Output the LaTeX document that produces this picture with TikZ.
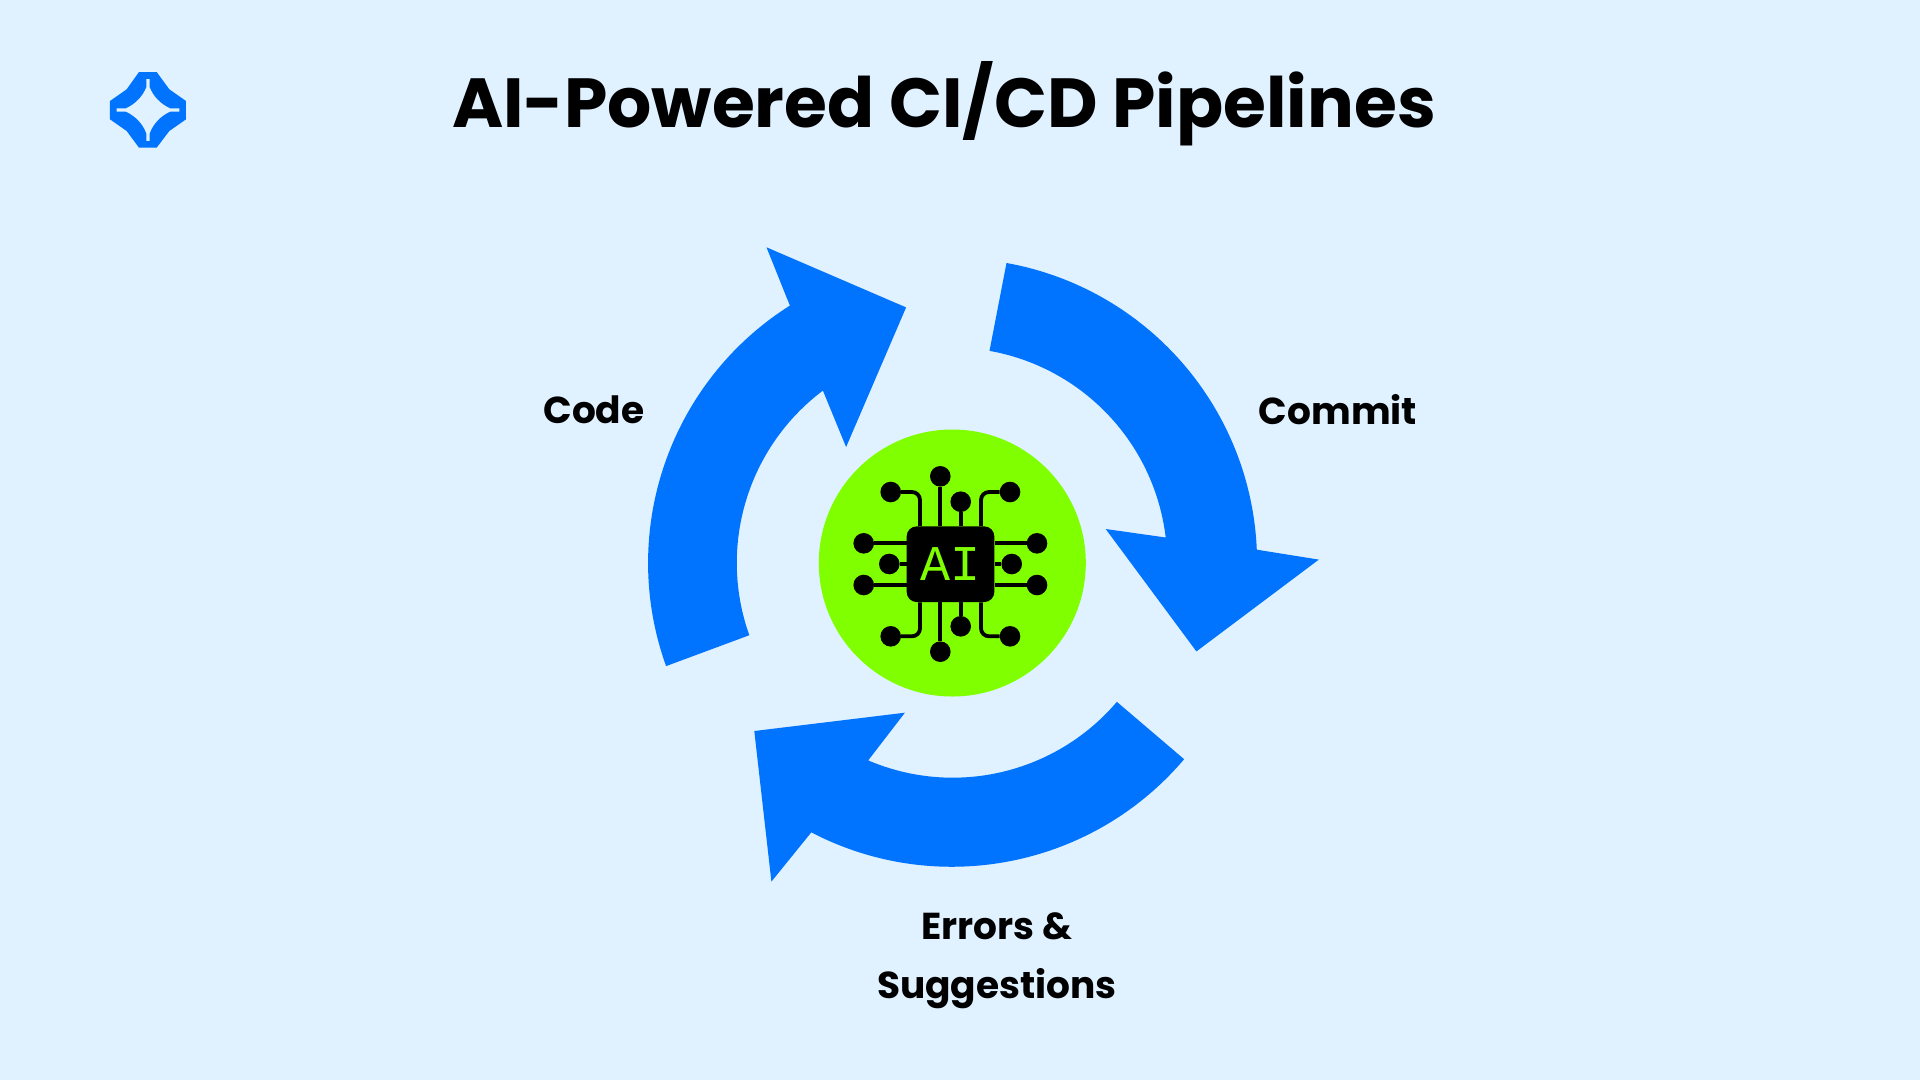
\documentclass[tikz,border=0pt]{standalone}
\usepackage{fontspec}
\setmainfont{Poppins}
\newfontfamily\chipfont{Liberation Mono}
\definecolor{bgc}{HTML}{E0F1FF}
\definecolor{bluec}{HTML}{0073FF}
\definecolor{greenc}{HTML}{7FFF00}
\tikzset{
  arrowshape/.style={fill=bluec,draw=none},
  lab/.style={font=\fontsize{37.5}{59}\selectfont\bfseries,align=center,inner sep=0pt,text=black},
  dot/.style={circle,fill=black,draw=none,minimum size=20.6pt,inner sep=0pt},
  trace/.style={draw=black,line width=3.8pt,rounded corners=8pt}
}
\begin{document}
\begin{tikzpicture}[x=1pt,y=-1pt]
\useasboundingbox (0,0) rectangle (1920,1080);
\fill[bgc] (0,0) rectangle (1920,1080);
\coordinate (c) at (952.5,563);
% arrows
\fill[arrowshape] (1006.5,263) arc[start angle=-79.8,end angle=-2.45,radius=304.5]
  -- (1318.8,559.6) -- (1196.4,651.4) -- (1105.7,529) -- (1165.7,537.5)
  arc[start angle=-6.8,end angle=-79.9,radius=215.5] -- cycle;
\fill[arrowshape] (1184.1,759.2) arc[start angle=40.3,end angle=117.5,radius=304.5]
  -- (771.4,881.6) -- (754.3,731) -- (904.9,712.7) -- (868.2,760.4)
  arc[start angle=113.1,end angle=40.4,radius=215.5] -- cycle;
\fill[arrowshape] (666.1,666.1) arc[start angle=160.2,end angle=237.7,radius=304.5]
  -- (766.5,247.3) -- (906.1,307.4) -- (846.1,447) -- (822.9,390.6)
  arc[start angle=233.1,end angle=160.4,radius=215.5] -- cycle;
% centre
\node[circle,fill=greenc,minimum size=267pt,inner sep=0pt] (hub) at (952.3,563) {};
\node[dot] (dtop) at (940.3,476.3) {};
\node[dot] (dtopb) at (960.7,501.7) {};
\node[dot] (dtl) at (890.7,492) {};
\node[dot] (dtr) at (1010,492) {};
\node[dot] (dla) at (863.7,543.3) {};
\node[dot] (dlb) at (889.3,564) {};
\node[dot] (dlc) at (863.7,585) {};
\node[dot] (dra) at (1037,543.3) {};
\node[dot] (drb) at (1011.7,564) {};
\node[dot] (drc) at (1037,585) {};
\node[dot] (dbl) at (890.7,636.3) {};
\node[dot] (dbr) at (1010,636.3) {};
\node[dot] (dbot) at (940.3,651.7) {};
\node[dot] (dbotb) at (960.7,626.3) {};
\node[fill=black,rounded corners=10pt,minimum width=87.6pt,minimum height=75.7pt,inner sep=0pt,
  text=greenc,font=\chipfont\fontsize{50}{50}\selectfont] (chip) at (950.5,564.2) {AI};
\coordinate (ctl) at (920,560);
\coordinate (ctr) at (981,560);
\draw[trace] (dtop) -- (dtop |- chip.north);
\draw[trace] (dtopb) -- (dtopb |- chip.north);
\draw[trace] (dbot) -- (dbot |- chip.south);
\draw[trace] (dbotb) -- (dbotb |- chip.south);
\draw[trace] (dla) -- (dla -| chip.west);
\draw[trace] (dlb) -- (dlb -| chip.west);
\draw[trace] (dlc) -- (dlc -| chip.west);
\draw[trace] (dra) -- (dra -| chip.east);
\draw[trace] (drb) -- (drb -| chip.east);
\draw[trace] (drc) -- (drc -| chip.east);
\draw[trace] (dtl) -- (dtl -| ctl) -- (ctl |- chip.north);
\draw[trace] (dtr) -- (dtr -| ctr) -- (ctr |- chip.north);
\draw[trace] (dbl) -- (dbl -| ctl) -- (ctl |- chip.south);
\draw[trace] (dbr) -- (dbr -| ctr) -- (ctr |- chip.south);
% logo
\begin{scope}[shift={(90,50)},x=0.3333pt,y=-0.3333pt]
\fill[bluec] (147,66)--(200,66)--(238,118)--(288,153)--(288,208)--(238,243)--(200,293)--(147,293)--(110,243)--(60,208)--(60,153)--(110,118)--cycle;
\fill[bgc] (169,87)--(179,87)--(179,112) .. controls (190,140) and (212,162) .. (240,175) -- (268,175)--(268,185)--(240,185)
  .. controls (212,198) and (190,220) .. (179,250) -- (179,273)--(169,273)--(169,250)
  .. controls (158,220) and (136,198) .. (108,185) -- (80,185)--(80,175)--(108,175)
  .. controls (136,162) and (158,140) .. (169,112) -- cycle;
\end{scope}
% text
\node[inner sep=0pt,font=\fontsize{69.5}{80}\selectfont\bfseries] (title) at (944,104) {AI-Powered CI/CD Pipelines};
\node[lab] (code) at (594,410) {Code};
\node[lab] (commit) at (1338,410) {Commit};
\node[lab] (errors) at (997,961) {Errors \&\\Suggestions};
\end{tikzpicture}
\end{document}
